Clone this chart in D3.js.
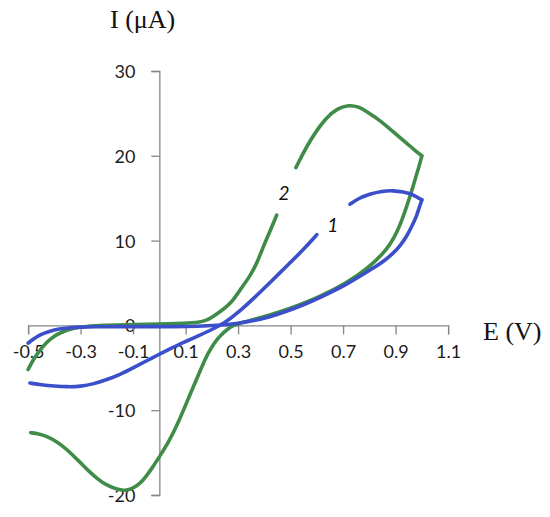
<!DOCTYPE html>
<html><head><meta charset="utf-8">
<script src="https://cdn.jsdelivr.net/npm/d3@7"></script>
<style>body{margin:0;background:#fff}svg{display:block}</style>
</head><body><svg id="c" width="550" height="517"></svg>
<script>
// ---- data ----
const xTicks = [-0.5, -0.3, -0.1, 0.1, 0.3, 0.5, 0.7, 0.9, 1.1];
const yTicks = [-20, -10, 0, 10, 20, 30];
const curveNames = ["1", "2"];
// curve 1 (blue): E (V) and I (uA); a null in I marks the break at the label
const curve1E = [-0.493,-0.45,-0.40,-0.35,-0.30,-0.25,-0.20,-0.15,-0.10,-0.05,0.0,0.05,0.10,0.15,0.20,0.25,0.30,0.36,0.42,0.485,0.548,0.60,
                 0.726,0.76,0.80,0.85,0.89,0.93,0.965,1.0,0.99,0.98,0.962,0.942,0.918,0.891,0.86,0.828,0.764,0.70,0.62,0.548,0.48,0.421,0.36,0.294,0.22,0.15,0.05,-0.05,-0.15,-0.25,-0.30,-0.35,-0.38,-0.42,-0.455,-0.48,-0.50];
const curve1I = [-6.8,-7.0,-7.15,-7.25,-7.2,-6.9,-6.4,-5.8,-5.0,-4.2,-3.4,-2.6,-1.9,-1.2,-0.5,0.3,1.5,3.2,5.0,7.0,8.9,10.7,
                 null,
                 14.3,15.0,15.5,15.85,15.9,15.75,15.45,14.8,13.9,12.9,11.7,10.5,9.4,8.5,7.7,7.0,5.8,4.6,3.4,2.4,1.6,1.0,0.55,0.2,0.0,-0.1,-0.15,-0.15,-0.15,-0.15,-0.2,-0.3,-0.4,-0.7,-1.1,-1.6,-2.1];
// curve 2 (green)
const curve2E = [-0.50,-0.48,-0.455,-0.43,-0.404,-0.37,-0.33,-0.28,-0.21,-0.1,0.0,0.1,0.15,0.18,0.20,0.231,0.26,0.282,0.31,0.345,0.37,0.396,0.42,0.447,
                 0.52,0.574,0.637,0.68,0.72,0.76,0.79,0.83,0.866,0.90,0.942,0.975,1.0,0.99,0.974,0.96,0.942,0.925,0.904,0.88,0.853,0.79,0.713,0.612,0.55,0.485,0.42,0.358,0.31,0.28,0.258,0.235,0.21,0.185,0.16,0.13,0.10,0.07,0.035,0.0,-0.025,-0.05,-0.075,-0.10,-0.125,-0.15,-0.20,-0.24,-0.277,-0.31,-0.353,-0.39,-0.43,-0.46,-0.49];
const curve2I = [-5.2,-4.0,-2.9,-2.0,-1.3,-0.75,-0.35,-0.1,0.0,0.1,0.15,0.25,0.35,0.6,0.95,1.6,2.3,3.0,4.3,5.8,7.2,9.3,11.0,13.0,
                 null,
                 18.6,21.9,24.6,25.6,26.0,25.8,25.2,24.4,23.5,22.6,21.5,20.6,20.0,18.8,17.2,15.7,14.0,12.5,10.9,9.6,8.5,6.6,5.0,3.4,2.6,1.85,1.2,0.67,0.3,0.0,-0.5,-1.1,-2.0,-3.3,-5.0,-7.2,-9.4,-11.6,-13.8,-15.5,-16.7,-17.8,-18.7,-19.2,-19.45,-19.45,-18.9,-18.0,-16.95,-15.9,-14.6,-13.7,-13.05,-12.78,-12.65];
// positions of the curve numbers (data coords)
const labelE = [0.661, 0.475];
const labelI = [11.05, 14.8];

// ---- build ----
function pts(E, I){ const out=[]; let k=0; for(let j=0;j<I.length;j++){ if(I[j]===null){out.push(null);} else {out.push([E[k],I[j]]);k++;} } return out; }
// split into drawable pieces at breaks and at the switching potential (sharp corner)
function pieces(data){
  const segs=[]; let cur=[];
  data.forEach(d => { if(d===null){ if(cur.length) segs.push(cur); cur=[]; } else cur.push(d); });
  if(cur.length) segs.push(cur);
  const out=[];
  segs.forEach(s => {
    const maxE = d3.max(s, d => d[0]);
    const i = s.findIndex(d => d[0] === maxE);
    if(i > 0 && i < s.length-1){ out.push(s.slice(0, i+1)); out.push(s.slice(i)); } else out.push(s);
  });
  return out;
}
const series = [
  {name:curveNames[1], color:"#3e8c47", data:pts(curve2E, curve2I)},
  {name:curveNames[0], color:"#3b4fca", data:pts(curve1E, curve1I)}
];

const svg = d3.select("#c");
const x = d3.scaleLinear().domain([-0.5, 1.1]).range([28.1, 448.1]);
const y = d3.scaleLinear().domain([-20, 30]).range([495, 71]);
const axisColor = "#868686";
const tickFont = "Lato, 'Open Sans', sans-serif";

// y axis
const gy = svg.append("g").attr("transform", `translate(${x(0)},0)`)
  .call(d3.axisLeft(y).tickValues(yTicks).tickSize(8).tickPadding(16).tickFormat(d => String(d)));
// x axis
const gx = svg.append("g").attr("transform", `translate(0,${y(0)})`)
  .call(d3.axisBottom(x).tickValues(xTicks).tickSize(9).tickPadding(20).tickFormat(d => d.toFixed(1)));
[gx, gy].forEach(g => {
  g.select(".domain").attr("stroke", axisColor).attr("stroke-width", 1.3);
  g.selectAll(".tick line").attr("stroke", axisColor).attr("stroke-width", 1.3);
  g.selectAll(".tick text").attr("fill", "#1c1c1c").style("font-family", tickFont).style("font-size", "18px");
});
gy.selectAll(".tick text").attr("dy", "0.36em");
gx.selectAll(".tick text").attr("dy", "0.2em");

// curves
const line = d3.line().x(d => x(d[0])).y(d => y(d[1])).curve(d3.curveBasis);
series.forEach(s => {
  pieces(s.data).forEach(p => {
    svg.append("path").attr("d", line(p)).attr("fill", "none")
      .attr("stroke", s.color).attr("stroke-width", 3.6).attr("stroke-linecap", "round").attr("stroke-linejoin", "round");
  });
});

// curve labels
curveNames.forEach((n, i) => {
  svg.append("text").attr("x", x(labelE[i])).attr("y", y(labelI[i])).attr("text-anchor", "middle")
    .style("font-family", tickFont).style("font-style", "italic").style("font-size", "19px").attr("fill", "#111").text(n);
});

// axis titles
svg.append("text").attr("x", 110).attr("y", 28).style("font-family", "'Liberation Serif', serif")
  .style("font-size", "26px").attr("fill", "#111").text("I (μA)");
svg.append("text").attr("x", 483).attr("y", 340).style("font-family", "'Liberation Serif', serif")
  .style("font-size", "26px").attr("fill", "#111").text("E (V)");
</script></body></html>
